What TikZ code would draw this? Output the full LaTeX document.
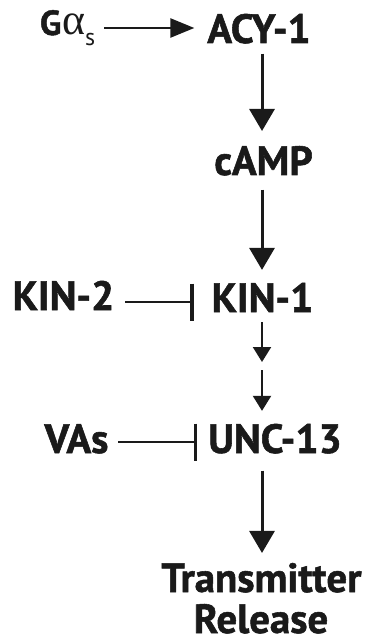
\documentclass[tikz,border=0pt]{standalone}
\usepackage{fontspec}
\setmainfont{PT Sans}[BoldFeatures={FakeBold=1.3}]
\newfontfamily\alphaf{Liberation Serif}
\usetikzlibrary{arrows.meta}
\definecolor{ink}{HTML}{1A1A1A}
\tikzset{
  lbl/.style={inner sep=0pt, outer sep=0pt, anchor=base, text=ink,
    font=\fontsize{41}{41}\selectfont\bfseries},
  bigarrow/.style={draw=ink, line width=3bp, -{Triangle[width=25bp,length=22bp]}},
  smallarrow/.style={draw=ink, line width=2.2bp, -{Triangle[width=18bp,length=15bp]}},
  sidearrow/.style={draw=ink, line width=2.5bp, -{Triangle[width=19bp,length=24bp]}},
  inhib/.style={draw=ink, line width=2.5bp, -{Bar[width=37bp,line width=3.5bp]}},
}
\begin{document}
\begin{tikzpicture}[x=1bp,y=-1bp]
\useasboundingbox (0,0) rectangle (372,643);
\coordinate (col) at (262,0);
\coordinate (row1) at (0,28);
\coordinate (row4) at (0,302);
\coordinate (row6) at (0,442);
% nodes
\node[lbl, anchor=base west, font=\fontsize{35}{35}\selectfont\bfseries] (gas) at (40,35)
  {G\kern1bp{\mdseries\alphaf\fontsize{44}{44}\selectfont α}\raisebox{-11bp}{\mdseries\fontsize{24}{24}\selectfont s}};
\node[lbl] (acy) at (259,43) {ACY-1};
\node[lbl] (camp) at (263.5,175) {cAMP};
\node[lbl] (kin2) at (63.5,310) {KIN-2};
\node[lbl] (kin1) at (262.5,312) {KIN-1};
\coordinate (mid) at (262,366);
\node[lbl] (vas) at (76.5,453) {VAs};
\node[lbl] (unc) at (275,453) {UNC-13};
\node[lbl] (tr1) at (261.5,592) {Transmitter};
\node[lbl] (tr2) at (261,633) {Release};
% connectors
\draw[sidearrow] ([xshift=9bp]gas.east |- row1) -- ([xshift=-13bp]acy.west |- row1);
\draw[bigarrow] ([yshift=-10bp]acy.south -| col) -- ([yshift=15bp]camp.north -| col);
\draw[bigarrow] ([yshift=-14bp]camp.south -| col) -- ([yshift=13bp]kin1.north -| col);
\draw[inhib] ([xshift=11bp]kin2.east |- row4) -- ([xshift=-18bp]kin1.west |- row4);
\draw[smallarrow] ([yshift=-10bp]kin1.south -| col) -- ([yshift=4bp]mid);
\draw[smallarrow] ([yshift=-4bp]mid) -- ([yshift=13bp]unc.north -| col);
\draw[inhib] ([xshift=10bp]vas.east |- row6) -- ([xshift=-11bp]unc.west |- row6);
\draw[bigarrow] ([yshift=-17bp]unc.south -| col) -- ([yshift=10bp]tr1.north -| col);
\end{tikzpicture}
\end{document}
